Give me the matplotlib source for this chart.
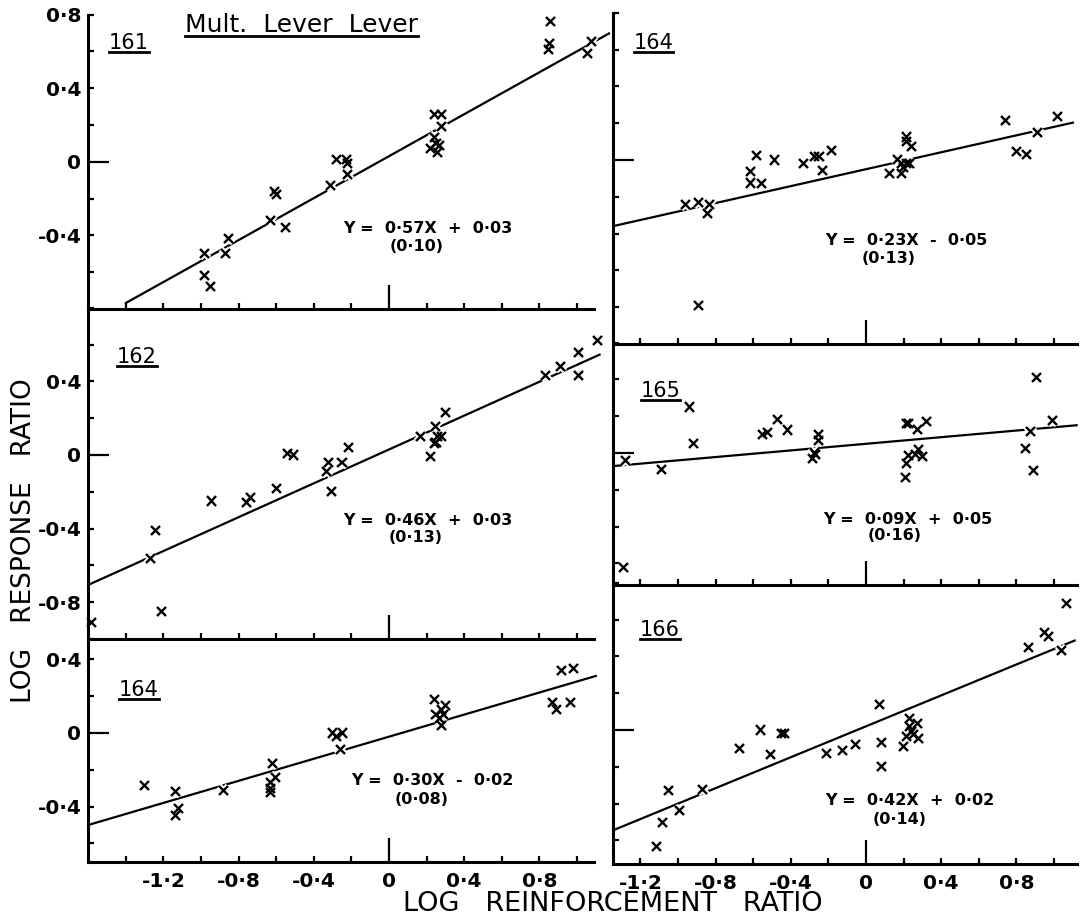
import matplotlib
matplotlib.use("Agg")
import matplotlib.pyplot as plt
import matplotlib.patheffects as pe
from matplotlib.lines import Line2D
import numpy as np

# ---- data (log reinforcement ratio, log response ratio)
x161 = [-0.98, -0.98, -0.95, -0.87, -0.855, -0.63, -0.61, -0.60, -0.55, -0.31, -0.28, -0.225, -0.22, -0.22,
        0.24, 0.28, 0.28, 0.24, 0.25, 0.22, 0.26, 0.27, 0.86, 0.855, 0.85, 1.075, 1.055]
y161 = [-0.50, -0.62, -0.68, -0.50, -0.42, -0.32, -0.16, -0.18, -0.36, -0.13, 0.01, 0.01, -0.01, -0.07,
        0.255, 0.255, 0.19, 0.13, 0.10, 0.07, 0.05, 0.09, 0.76, 0.64, 0.61, 0.655, 0.59]

x162 = [-1.58, -1.27, -1.24, -1.21, -0.945, -0.76, -0.735, -0.60, -0.54, -0.51, -0.33, -0.32, -0.305, -0.25,
        -0.215, 0.17, 0.22, 0.245, 0.25, 0.26, 0.28, 0.24, 0.30, 0.83, 0.91, 1.01, 1.01, 1.11]
y162 = [-0.91, -0.56, -0.41, -0.85, -0.25, -0.26, -0.23, -0.18, 0.01, 0.0, -0.09, -0.04, -0.20, -0.04,
        0.04, 0.10, -0.01, 0.155, 0.07, 0.10, 0.10, 0.06, 0.23, 0.43, 0.48, 0.555, 0.43, 0.62]

x164a = [-1.30, -1.135, -1.12, -1.135, -0.88, -0.62, -0.605, -0.63, -0.63, -0.63, -0.30, -0.28, -0.245, -0.26,
         0.24, 0.28, 0.30, 0.25, 0.29, 0.27, 0.28, 0.92, 0.98, 0.87, 0.89, 0.965]
y164a = [-0.285, -0.32, -0.41, -0.45, -0.31, -0.165, -0.24, -0.27, -0.30, -0.325, 0.0, -0.02, 0.0, -0.09,
         0.18, 0.125, 0.15, 0.10, 0.10, 0.08, 0.04, 0.34, 0.35, 0.165, 0.13, 0.165]

x164b = [-0.96, -0.89, -0.83, -0.845, -0.89, -0.615, -0.615, -0.555, -0.585, -0.485, -0.33, -0.275, -0.25,
         -0.185, -0.23, 0.125, 0.17, 0.19, 0.215, 0.215, 0.24, 0.19, 0.215, 0.23, 0.20, 0.74, 0.80, 0.855,
         0.91, 1.02]
y164b = [-0.24, -0.23, -0.24, -0.29, -0.79, -0.065, -0.125, -0.13, 0.025, 0.0, -0.02, 0.02, 0.02,
         0.05, -0.055, -0.075, 0.005, -0.075, 0.125, 0.10, 0.075, -0.02, -0.02, -0.02, -0.04, 0.215, 0.045, 0.03,
         0.15, 0.235]

x165 = [-1.28, -1.29, -1.09, -0.94, -0.915, -0.55, -0.525, -0.47, -0.415, -0.285, -0.275, -0.255, -0.255, -0.27,
        0.215, 0.225, 0.275, 0.32, 0.225, 0.215, 0.21, 0.28, 0.30, 0.265, 0.85, 0.875, 0.905, 0.89, 0.99]
y165 = [-0.04, -0.62, -0.09, 0.25, 0.05, 0.10, 0.11, 0.18, 0.125, -0.03, 0.0, 0.07, 0.10, -0.01,
        0.16, 0.16, 0.13, 0.17, -0.015, -0.055, -0.135, 0.02, -0.02, -0.01, 0.025, 0.115, 0.41, -0.095, 0.175]

x166 = [-1.115, -1.085, -1.05, -0.99, -0.87, -0.675, -0.56, -0.51, -0.45, -0.435, -0.21, -0.125, -0.055, 0.07,
        0.085, 0.085, 0.20, 0.215, 0.23, 0.23, 0.24, 0.255, 0.275, 0.28, 0.865, 0.95, 0.97, 1.04, 1.065]
y166 = [-0.635, -0.505, -0.33, -0.435, -0.325, -0.10, 0.0, -0.135, -0.02, -0.02, -0.13, -0.11, -0.08, 0.14,
        -0.07, -0.20, -0.09, -0.035, 0.06, 0.02, -0.01, -0.025, 0.035, -0.045, 0.45, 0.53, 0.51, 0.43, 0.69]

# fitted lines: slope, intercept, (s.e.), x range of drawn line
fits = {
    "161": (0.57, 0.03, 0.10, -1.40, 1.17),
    "162": (0.46, 0.03, 0.13, -1.60, 1.12),
    "164a": (0.30, -0.02, 0.08, -1.60, 1.10),
    "164b": (0.23, -0.05, 0.13, -1.345, 1.10),
    "165": (0.09, 0.05, 0.16, -1.345, 1.12),
    "166": (0.42, 0.02, 0.14, -1.345, 1.11),
}

plt.rcParams['font.family'] = ['DejaVu Sans']

W, H = 1080, 915
SX, SY = 188, 184
fig = plt.figure(figsize=(W / 100, H / 100), dpi=100)
fig.patch.set_facecolor("white")


def fmt(v):
    if abs(v) < 1e-9:
        return "0"
    s = f"{abs(v):.1f}".replace(".", "\u00b7")
    return ("-" if v < 0 else "") + s


def add_panel(x_zero, y_zero, xlim, ylim):
    x0 = x_zero + xlim[0] * SX
    x1 = x_zero + xlim[1] * SX
    top = y_zero - ylim[1] * SY
    bot = y_zero - ylim[0] * SY
    ax = fig.add_axes([x0 / W, 1 - bot / H, (x1 - x0) / W, (bot - top) / H])
    ax.set_xlim(xlim)
    ax.set_ylim(ylim)
    ax.patch.set_visible(False)
    return ax


def style(ax, ylabels, xlabels, xticks):
    for s in ["top", "right"]:
        ax.spines[s].set_visible(False)
    for s in ["left", "bottom"]:
        ax.spines[s].set_linewidth(2.2)
        ax.spines[s].set_zorder(5)
    lo, hi = ax.get_ylim()
    yt = [v for v in np.round(np.arange(-1.0, 0.81, 0.2), 1) if lo - 1e-6 <= v <= hi + 1e-6]
    ax.set_yticks(yt)
    ax.set_yticklabels([fmt(v) if any(abs(v - l) < 1e-6 for l in ylabels) else "" for v in yt])
    ax.set_xticks(xticks)
    ax.set_xticklabels([fmt(v) if any(abs(v - l) < 1e-6 for l in xlabels) else "" for v in xticks])
    ax.tick_params(direction="in", length=4.5, width=1.6, labelsize=14.5, colors="black")
    ax.tick_params(axis="y", pad=5)
    ax.tick_params(axis="x", pad=7)
    for t in ax.get_xticklabels() + ax.get_yticklabels():
        t.set_fontweight("bold")
    for tk in ax.yaxis.get_major_ticks():
        if abs(tk.get_loc()) < 1e-9:
            tk.tick1line.set_markersize(15)
    for tk in ax.xaxis.get_major_ticks():
        if abs(tk.get_loc()) < 1e-9:
            tk.tick1line.set_markersize(17)


def draw(ax, xs, ys, key, num, num_pos, eq_pos, se_pos):
    m, c, se, lo, hi = fits[key]
    lx = np.array([lo, hi])
    ax.plot(lx, m * lx + c, color="black", lw=1.6, zorder=2, clip_on=False)
    ax.plot(xs, ys, ls="none", marker="x", ms=6.5, mew=1.7, color="black", zorder=3, clip_on=False,
            path_effects=[pe.Stroke(linewidth=4.5, foreground="white"), pe.Normal()])
    sign = "+" if c >= 0 else "-"
    eq = f"Y =  {m:.2f}X  {sign}  {abs(c):.2f}".replace(".", "\u00b7")
    ax.text(eq_pos[0], eq_pos[1], eq, ha="center", va="center", fontsize=11.5, fontweight="bold")
    ax.text(se_pos[0], se_pos[1], f"({se:.2f})".replace(".", "\u00b7"), ha="center", va="center",
            fontsize=11.5, fontweight="bold")
    t = ax.text(num_pos[0], num_pos[1], num, ha="center", va="center", fontsize=15)
    return t


left_xt = list(np.round(np.arange(-1.4, 1.01, 0.2), 1))
right_xt = list(np.round(np.arange(-1.2, 1.01, 0.2), 1))
xlab = [-1.2, -0.8, -0.4, 0.0, 0.4, 0.8]

LX0, RX0 = 389, 866
LXLIM, RXLIM = (-1.6, 1.09), (-1.345, 1.12)

ax1 = add_panel(LX0, 161.7, LXLIM, (-0.8, 0.8))
style(ax1, [0.8, 0.4, 0.0, -0.4], [], left_xt)
ax2 = add_panel(LX0, 455, LXLIM, (-1.0, 0.8))
style(ax2, [0.4, 0.0, -0.4, -0.8], [], left_xt)
ax3 = add_panel(LX0, 733, LXLIM, (-0.7, 0.5))
style(ax3, [0.4, 0.0, -0.4], xlab, left_xt)

ax4 = add_panel(RX0, 160, RXLIM, (-1.0, 0.8))
style(ax4, [], [], right_xt)
ax5 = add_panel(RX0, 453, RXLIM, (-0.72, 0.6))
style(ax5, [], [], right_xt)
ax6 = add_panel(RX0, 730, RXLIM, (-0.73, 0.8))
style(ax6, [], xlab, right_xt)

nums = [
    draw(ax1, x161, y161, "161", "161", (-1.383, 0.643), (0.207, -0.362), (0.149, -0.46)),
    draw(ax2, x162, y162, "162", "162", (-1.34, 0.533), (0.205, -0.355), (0.141, -0.45)),
    draw(ax3, x164a, y164a, "164a", "164", (-1.332, 0.235), (0.229, -0.257), (0.176, -0.36)),
    draw(ax4, x164b, y164b, "164b", "164", (-1.13, 0.637), (0.217, -0.44), (0.122, -0.533)),
    draw(ax5, x165, y165, "165", "165", (-1.093, 0.339), (0.222, -0.363), (0.153, -0.45)),
    draw(ax6, x166, y166, "166", "166", (-1.095, 0.544), (0.235, -0.385), (0.18, -0.484)),
]

title = ax1.text(-0.468, 0.745, "Mult.  Lever  Lever", ha="center", va="center", fontsize=18)

fig.text(24 / W, 1 - 541 / H, "LOG   RESPONSE   RATIO", rotation=90, ha="center", va="center", fontsize=19)
fig.text(613 / W, 1 - 904 / H, "LOG   REINFORCEMENT   RATIO", ha="center", va="center", fontsize=19.5)

# underline the panel numbers and the title
fig.canvas.draw()
inv = fig.transFigure.inverted()
for t in nums + [title]:
    bb = t.get_window_extent().transformed(inv)
    yline = bb.y0 + 1.0 / H
    fig.add_artist(Line2D([bb.x0, bb.x1], [yline, yline], transform=fig.transFigure, color="black", lw=2.0))

fig.savefig("out.png", dpi=100, facecolor="white")
